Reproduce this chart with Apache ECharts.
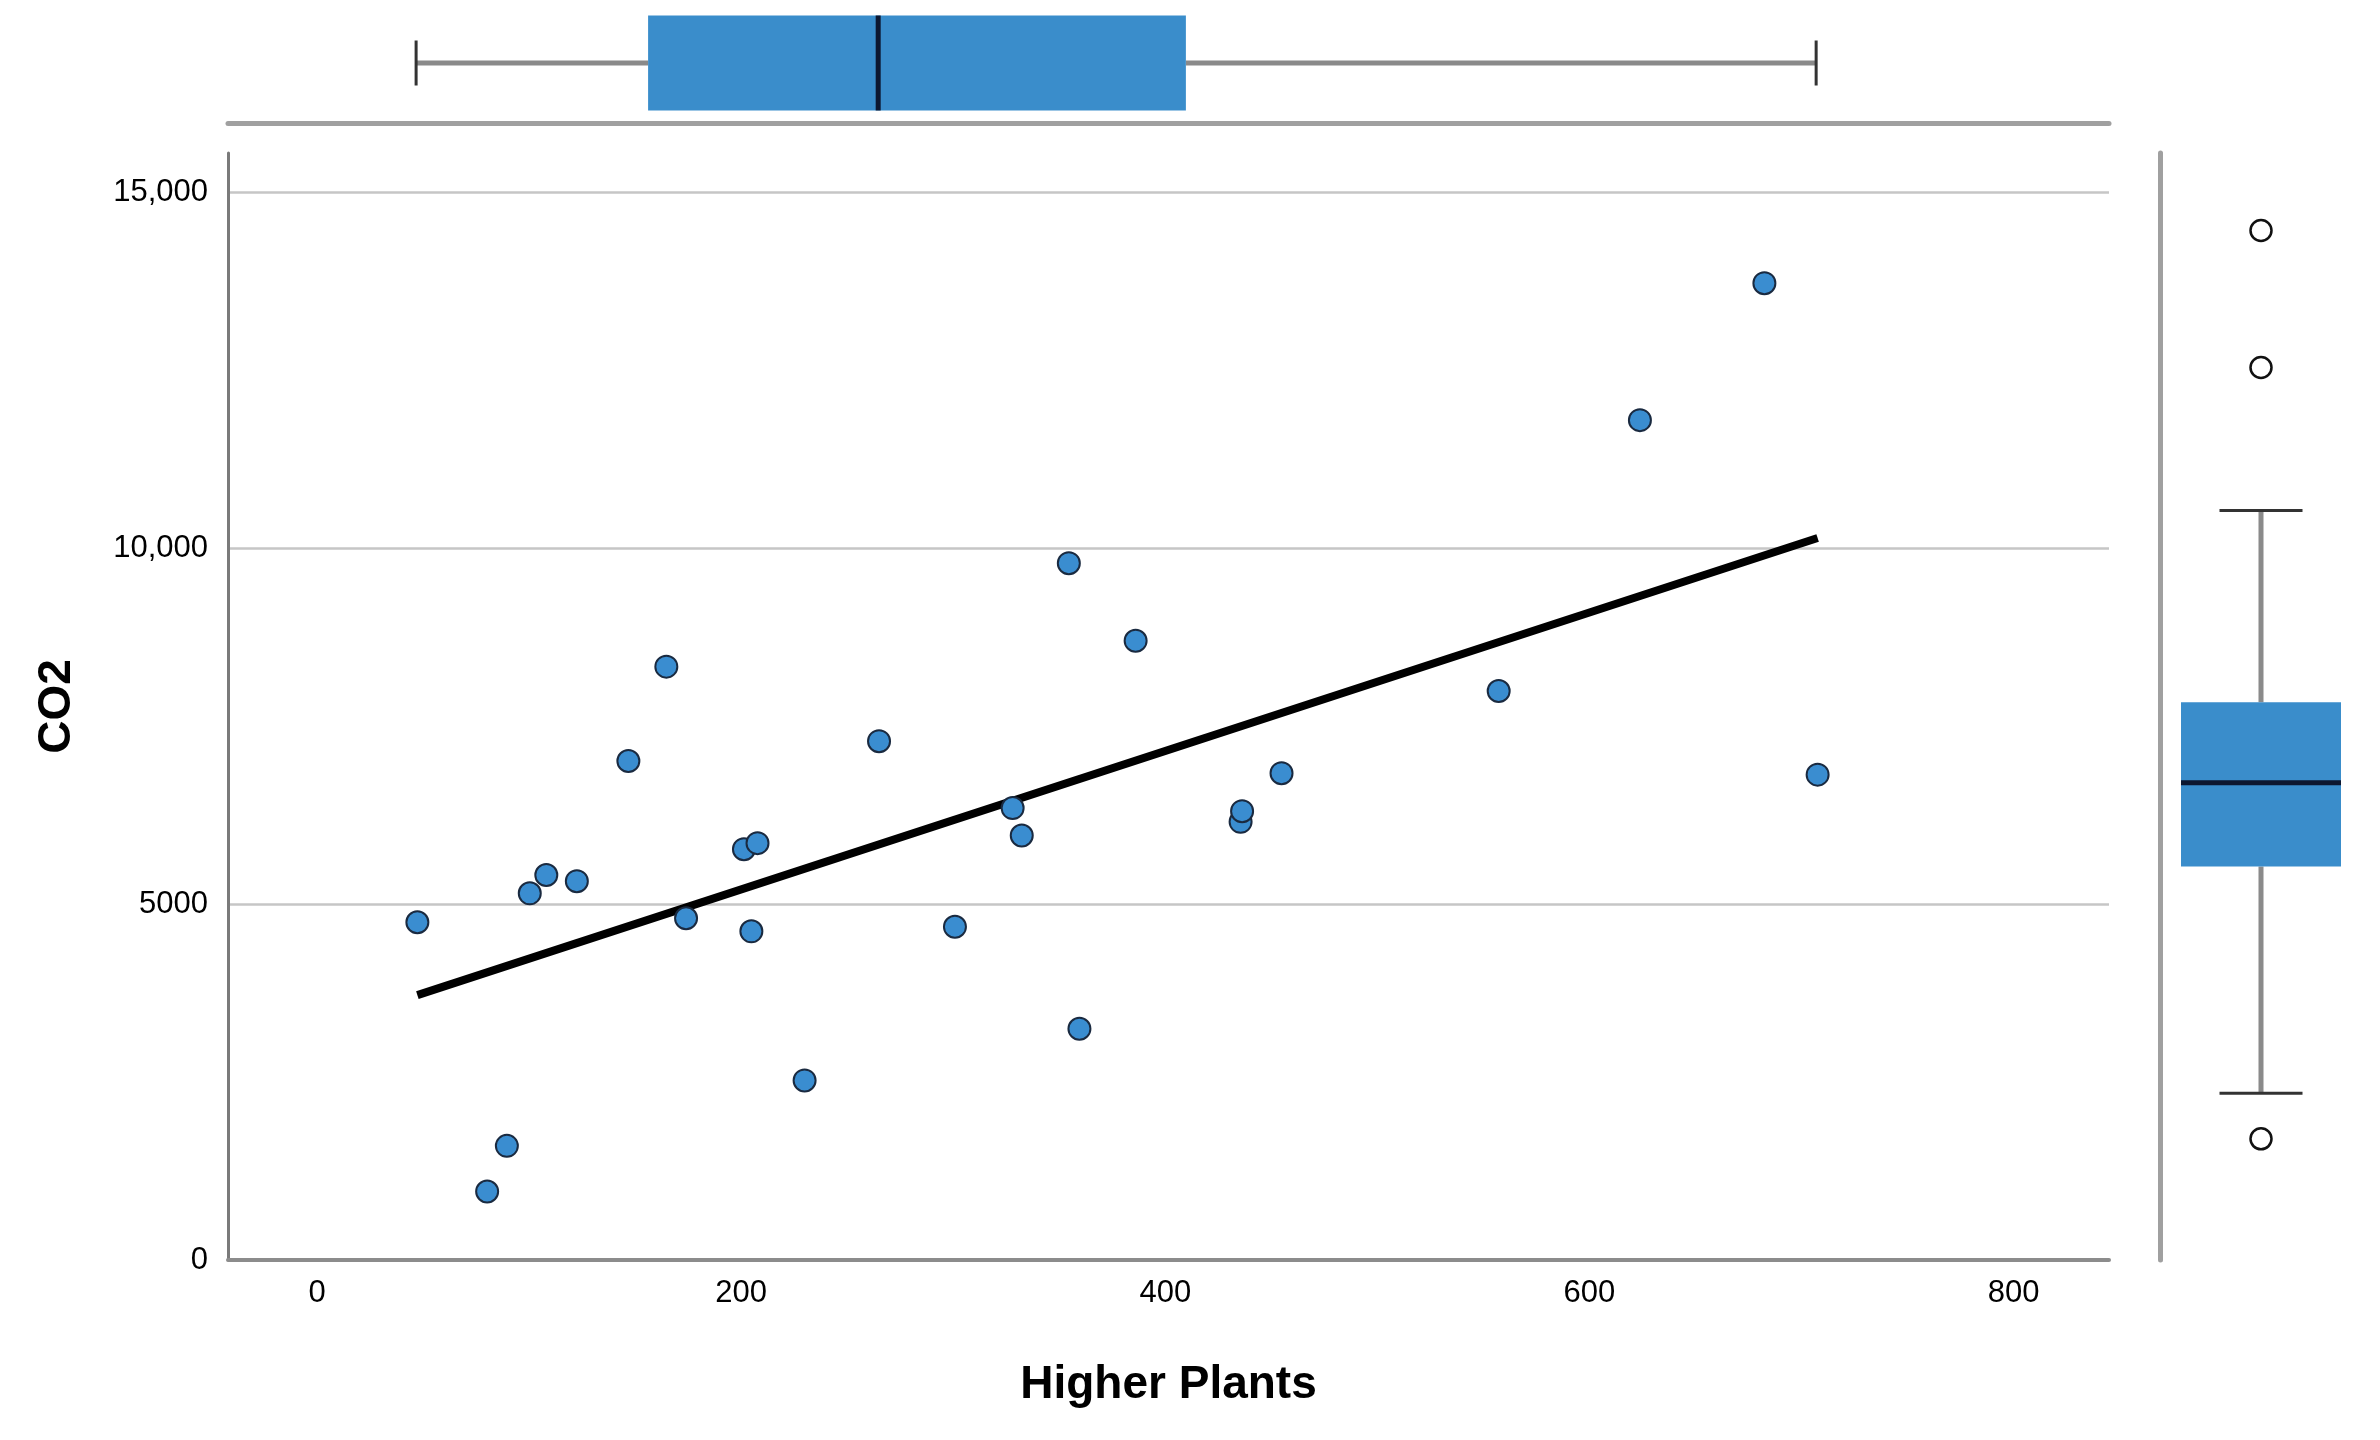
<!DOCTYPE html>
<html>
<head>
<meta charset="utf-8">
<title>CO2 vs Higher Plants</title>
<script src="https://cdn.jsdelivr.net/npm/echarts@6/dist/echarts.min.js"></script>
<style>
  html, body { margin: 0; padding: 0; background: #fff; }
  #chart { width: 2380px; height: 1440px; }
</style>
</head>
<body>
<div id="chart"></div>
<script>
// points
const higherPlants = [47.3, 80.2, 89.5, 100.3, 108.1, 122.5, 146.8, 164.7, 174.0, 201.3, 204.8, 207.7, 229.9, 265.0,
  300.8, 328.0, 332.3, 354.5, 359.5, 386.0, 435.5, 436.2, 454.8, 557.2, 623.8, 682.5, 707.6];
const co2 = [4744, 962, 1603, 5150, 5407, 5321, 7009, 8334, 4800, 5770, 4616, 5855, 2522, 7287,
  4680, 6347, 5962, 9787, 3248, 8697, 6154, 6304, 6838, 7992, 11796, 13720, 6817];

// fit line end points
const fitLine = [[47.3, 3720], [707.6, 10140]];

// box plot stats: [min whisker, q1, median, q3, max whisker]
const boxHigherPlants = [46.7, 156.1, 264.6, 409.7, 706.9];
const boxCo2 = [1603, 4787, 5962, 7095, 9787];
const co2Outliers = [13720, 11796, 962];

const xTicks = [0, 200, 400, 600, 800];
const yTicks = [0, 5000, 10000, 15000];

const font = "'Liberation Sans', Arial, sans-serif";
const boxBlue = '#3a8dcb';

const chart = echarts.init(document.getElementById('chart'));

// draws one box with half-width caps, horizontal or vertical
function boxRenderer(horizontal, boxSize, capSize) {
  return function (params, api) {
    const s = [api.value(1), api.value(2), api.value(3), api.value(4), api.value(5)];
    const pt = v => horizontal ? api.coord([v, 0]) : api.coord([0, v]);
    const p = s.map(pt);
    const c = horizontal ? p[0][1] : p[0][0];
    const children = [];
    const seg = (a, b, style) => ({
      type: 'line',
      shape: horizontal ? { x1: a, y1: c, x2: b, y2: c } : { x1: c, y1: a, x2: c, y2: b },
      style: style
    });
    const cross = (at, len, style) => ({
      type: 'line',
      shape: horizontal ? { x1: at, y1: c - len / 2, x2: at, y2: c + len / 2 }
                        : { x1: c - len / 2, y1: at, x2: c + len / 2, y2: at },
      style: style
    });
    const k = horizontal ? 0 : 1;
    const stem = { stroke: '#8a8a8a', lineWidth: 5 };
    const cap = { stroke: '#333', lineWidth: 3 };
    children.push(seg(p[0][k], p[1][k], stem));
    children.push(seg(p[3][k], p[4][k], stem));
    children.push(cross(p[0][k], capSize, cap));
    children.push(cross(p[4][k], capSize, cap));
    const a = Math.min(p[1][k], p[3][k]), b = Math.max(p[1][k], p[3][k]);
    children.push({
      type: 'rect',
      shape: horizontal ? { x: a, y: c - boxSize / 2, width: b - a, height: boxSize }
                        : { x: c - boxSize / 2, y: a, width: boxSize, height: b - a },
      style: { fill: boxBlue }
    });
    children.push(cross(p[2][k], boxSize, { stroke: '#0d1730', lineWidth: 5 }));
    return { type: 'group', children: children };
  };
}

const option = {
  backgroundColor: '#fff',
  animation: false,
  grid: [
    { left: 228, top: 153, width: 1881, height: 1107 },
    { left: 228, top: 3, width: 1881, height: 120 },
    { left: 2160, top: 153, width: 202, height: 1107 }
  ],
  xAxis: [{
    gridIndex: 0,
    type: 'value',
    min: -42,
    max: 845,
    name: 'Higher Plants',
    nameLocation: 'middle',
    nameGap: 102,
    nameTextStyle: { fontFamily: font, fontSize: 46, fontWeight: 'bold', color: '#000' },
    axisLine: { show: true, onZero: false, lineStyle: { color: '#8c8c8c', width: 4 } },
    axisTick: { show: false },
    splitLine: { show: false },
    axisLabel: {
      customValues: xTicks,
      fontFamily: font, fontSize: 31, color: '#000', margin: 18
    }
  }, {
    gridIndex: 1,
    type: 'value',
    min: -42,
    max: 845,
    axisLine: { show: true, onZero: false, lineStyle: { color: '#a0a0a0', width: 5 } },
    axisTick: { show: false },
    axisLabel: { show: false },
    splitLine: { show: false }
  }, {
    gridIndex: 2,
    type: 'category',
    data: ['CO2'],
    show: false
  }],
  yAxis: [{
    gridIndex: 0,
    type: 'value',
    min: 0,
    max: 15548,
    interval: 5000,
    name: 'CO2',
    nameLocation: 'middle',
    nameGap: 148,
    nameTextStyle: { fontFamily: font, fontSize: 46, fontWeight: 'bold', color: '#000' },
    axisLine: { show: true, onZero: false, lineStyle: { color: '#7a7a7a', width: 3 } },
    axisTick: { show: false },
    splitLine: {
      show: true, showMinLine: false, showMaxLine: false,
      lineStyle: { color: '#c6c6c6', width: 2.5 }
    },
    axisLabel: {
      customValues: yTicks,
      fontFamily: font, fontSize: 31, color: '#000', margin: 20,
      formatter: v => v >= 10000 ? v.toLocaleString('en-US') : String(v)
    }
  }, {
    gridIndex: 1,
    type: 'category',
    data: ['Higher Plants'],
    show: false
  }, {
    gridIndex: 2,
    type: 'value',
    min: -740,
    max: 14808,
    axisLine: { show: true, onZero: false, lineStyle: { color: '#a0a0a0', width: 5 } },
    axisTick: { show: false },
    axisLabel: { show: false },
    splitLine: { show: false }
  }],
  series: [{
    type: 'line',
    xAxisIndex: 0,
    yAxisIndex: 0,
    data: fitLine,
    symbol: 'none',
    lineStyle: { color: '#000', width: 8, cap: 'butt' },
    z: 2
  }, {
    type: 'scatter',
    xAxisIndex: 0,
    yAxisIndex: 0,
    data: higherPlants.map((x, i) => [x, co2[i]]),
    symbolSize: 22,
    itemStyle: { color: '#3a8dd0', borderColor: '#1a2a40', borderWidth: 2, opacity: 1 },
    z: 3
  }, {
    type: 'custom',
    xAxisIndex: 1,
    yAxisIndex: 1,
    data: [[0].concat(boxHigherPlants)],
    encode: { y: 0, x: [1, 2, 3, 4, 5] },
    renderItem: boxRenderer(true, 95, 45)
  }, {
    type: 'custom',
    xAxisIndex: 2,
    yAxisIndex: 2,
    data: [[0].concat(boxCo2)],
    encode: { x: 0, y: [1, 2, 3, 4, 5] },
    renderItem: boxRenderer(false, 160, 83)
  }, {
    type: 'scatter',
    xAxisIndex: 2,
    yAxisIndex: 2,
    data: co2Outliers.map(v => [0, v]),
    symbolSize: 21,
    itemStyle: { color: '#fff', borderColor: '#111', borderWidth: 2.5, opacity: 1 }
  }]
};

chart.setOption(option);
</script>
</body>
</html>
